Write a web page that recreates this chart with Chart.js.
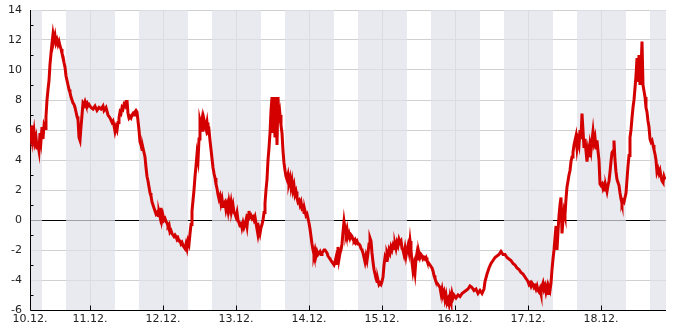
<!DOCTYPE html>
<html>
<head>
<meta charset="utf-8">
<script src="https://cdn.jsdelivr.net/npm/chart.js@4"></script>
<style>
  html, body { margin: 0; padding: 0; background: #fff; }
  #wrap { width: 685px; height: 330px; }
</style>
</head>
<body>
<div id="wrap"><canvas id="chart" width="685" height="330"></canvas></div>
<script>
// hours counted from 10.12. 00:00, temperature in °C
const dayLabels = ['10.12.', '11.12.', '12.12.', '13.12.', '14.12.', '15.12.', '16.12.', '17.12.', '18.12.'];
const X_MIN = 4.27;
const X_MAX = 213.37;
const SUNRISE = 8.2;
const SUNSET = 16.1;

const readings = [
  // 10.12.
  [4.27,6.2],[4.60,5.6],[4.93,6.3],[5.26,5.4],[5.59,5.9],[5.92,5.2],[6.25,5.5],[6.58,4.8],[6.90,5.0],[7.23,4.6],
  [7.56,5.8],[7.89,5.3],[8.22,6.2],[8.55,5.4],[8.88,6.3],[9.21,6.1],[9.53,6.9],[9.86,8.0],[10.19,8.7],[10.52,9.3],
  [10.85,10.4],[11.18,11.1],[11.51,11.8],[11.84,12.4],[12.16,12.0],[12.49,12.3],[12.82,11.8],[13.15,12.0],[13.48,11.7],[13.81,11.9],
  [14.14,11.6],[14.47,11.4],[14.79,11.1],[15.12,10.9],[15.45,10.5],[15.78,10.2],[16.11,9.6],[16.44,9.3],[16.77,9.0],[17.10,8.7],
  [17.42,8.5],[17.75,8.2],[18.08,8.0],[18.41,7.8],[18.74,7.7],[19.07,7.5],[19.40,7.2],[19.73,6.9],[20.05,6.7],[20.38,5.5],
  [20.71,5.3],[21.04,6.2],[21.37,7.0],[21.70,7.8],[22.03,7.7],[22.36,7.9],[22.68,7.7],[23.01,7.8],[23.34,7.6],[23.67,7.7],
  // 11.12.
  [24.00,7.6],[24.33,7.5],[24.99,7.4],[25.64,7.6],[26.30,7.3],[26.96,7.5],[27.62,7.4],[28.27,7.6],[28.60,7.3],[29.26,7.5],
  [29.92,7.0],[30.58,6.8],[31.23,6.5],[31.56,6.6],[31.89,6.3],[32.22,5.9],[32.55,6.2],[32.88,6.0],[33.21,6.5],[33.53,6.8],
  [33.86,7.2],[34.19,7.1],[34.52,7.5],[34.85,7.4],[35.18,7.7],[35.51,7.6],[35.84,7.9],[36.16,8.0],[36.49,7.1],[36.82,6.8],
  [37.15,6.9],[37.48,6.8],[37.81,7.0],[38.14,7.1],[38.47,7.0],[38.79,7.2],[39.12,7.3],[39.45,7.2],[39.78,6.6],[40.11,6.0],
  [40.44,5.2],[40.77,5.0],[41.10,4.7],[41.42,4.8],[41.75,4.5],[42.08,4.2],[42.41,3.5],[42.74,2.9],[43.07,2.6],[43.40,2.2],
  [43.73,1.8],[44.05,1.6],[44.38,1.2],[44.71,1.0],[45.04,0.8],[45.37,0.6],[45.70,0.4],[46.03,0.5],[46.36,0.3],[46.68,0.5],
  [47.01,0.2],[47.34,0.8],[47.67,0.0],
  // 12.12.
  [48.00,0.3],[48.33,0.0],[48.66,0.1],[48.99,-0.1],[49.32,-0.2],[49.64,-0.4],[49.97,-0.3],[50.30,-0.8],[50.63,-0.7],[50.96,-0.9],
  [51.29,-1.0],[51.62,-1.1],[51.95,-1.0],[52.27,-1.1],[52.60,-1.3],[52.93,-1.2],[53.26,-1.4],[53.59,-1.4],[53.92,-1.6],[54.25,-1.5],
  [54.58,-1.7],[54.90,-1.8],[55.23,-1.9],[55.56,-1.6],[55.89,-1.9],[56.22,-1.4],[56.55,-1.6],[56.88,-0.9],[57.21,-0.3],[57.53,0.6],
  [57.86,1.3],[58.19,2.0],[58.52,2.9],[58.85,3.6],[59.18,4.4],[59.51,4.0],[59.84,5.4],[60.16,6.6],[60.49,6.3],[60.82,6.7],
  [61.15,5.9],[61.48,6.7],[61.81,6.4],[62.14,6.1],[62.47,6.5],[62.79,5.9],[63.12,6.0],[63.45,5.3],[63.78,4.7],[64.11,4.1],
  [64.44,3.5],[64.77,3.1],[65.10,2.8],[65.42,2.4],[65.75,2.1],[66.08,1.7],[66.41,1.4],[66.74,1.6],[67.07,1.1],[67.40,1.4],
  [67.73,0.9],[68.05,1.1],[68.38,1.2],[68.71,0.7],[69.04,1.0],[69.37,0.6],[69.70,1.2],[70.03,0.8],[70.36,1.2],[70.68,0.7],
  [71.01,1.0],[71.34,0.5],[71.67,0.4],
  // 13.12.
  [72.00,0.2],[72.33,0.5],[72.66,0.0],[72.99,-0.2],[73.32,-0.4],[73.64,-0.1],[73.97,-0.5],[74.30,-0.2],[74.63,-0.5],[74.96,-0.3],
  [75.29,0.0],[75.62,-0.4],[75.95,0.3],[76.27,0.6],[76.60,0.2],[76.93,0.3],[77.26,0.1],[77.59,0.2],[77.92,0.0],[78.25,0.2],
  [78.58,-0.2],[78.90,-0.6],[79.23,-1.0],[79.56,-0.6],[79.89,-0.9],[80.22,-0.5],[80.55,-0.3],[80.88,0.0],[81.21,0.5],[81.53,1.1],
  [81.86,2.0],[82.19,2.7],[82.52,4.0],[82.85,4.8],[83.18,5.8],[83.51,7.3],[83.84,8.2],[84.16,5.8],[84.49,7.0],[84.82,5.5],
  [85.15,8.2],[85.48,5.0],[85.81,8.2],[86.14,6.5],[86.47,7.0],[86.79,6.3],[87.12,5.8],[87.45,4.6],[87.78,3.8],[88.11,3.3],
  [88.44,2.9],[88.77,2.7],[89.10,3.0],[89.42,2.5],[89.75,2.8],[90.08,2.2],[90.41,2.6],[90.74,2.0],[91.07,2.3],[91.40,1.7],
  [91.73,1.9],[92.05,1.5],[92.38,1.2],[92.71,1.3],[93.04,1.0],[93.37,1.2],[93.70,0.8],[94.03,0.9],[94.36,0.5],[94.68,0.6],
  [95.01,0.3],[95.34,0.4],[95.67,0.1],
  // 14.12.
  [96.00,-0.2],[96.33,-0.6],[96.66,-1.1],[96.99,-1.6],[97.32,-2.0],[97.64,-2.3],[97.97,-2.0],[98.30,-2.4],[98.63,-2.1],[98.96,-2.3],
  [99.29,-2.2],[99.62,-2.1],[99.95,-2.3],[100.27,-2.2],[100.60,-2.1],[100.93,-2.0],[101.26,-2.0],[101.59,-2.1],[101.92,-2.2],[102.25,-2.4],
  [102.58,-2.5],[102.90,-2.6],[103.23,-2.7],[103.56,-2.8],[103.89,-2.9],[104.22,-3.0],[104.55,-2.8],[104.88,-2.5],[105.21,-2.9],[105.53,-1.8],
  [105.86,-2.6],[106.19,-2.2],[106.52,-2.0],[106.85,-1.6],[107.18,-0.8],[107.51,-0.1],[107.84,-0.6],[108.16,-0.9],[108.49,-0.6],[108.82,-1.1],
  [109.15,-0.9],[109.48,-1.2],[109.81,-1.0],[110.14,-1.1],[110.47,-1.3],[110.79,-1.4],[111.12,-1.3],[111.45,-1.5],[111.78,-1.4],[112.11,-1.6],
  [112.44,-1.6],[112.77,-1.7],[113.10,-1.9],[113.42,-2.0],[113.75,-2.2],[114.08,-2.5],[114.41,-2.8],[114.74,-2.4],[115.07,-2.7],[115.40,-2.2],
  [115.73,-1.6],[116.05,-1.2],[116.38,-1.4],[116.71,-2.2],[117.04,-2.8],[117.37,-3.3],[117.70,-3.6],[118.03,-3.9],[118.36,-4.1],[118.68,-4.0],
  [119.01,-4.3],[119.34,-4.2],[119.67,-4.3],
  // 15.12.
  [120.00,-4.1],[120.33,-3.8],[120.66,-3.0],[120.99,-2.5],[121.32,-2.7],[121.64,-2.2],[121.97,-2.4],[122.30,-2.0],[122.63,-2.2],[122.96,-1.8],
  [123.29,-2.0],[123.62,-1.7],[123.95,-1.9],[124.27,-1.6],[124.60,-1.9],[124.93,-1.5],[125.26,-1.7],[125.59,-1.3],[125.92,-1.5],[126.25,-1.4],
  [126.58,-1.9],[126.90,-2.0],[127.23,-2.3],[127.56,-1.9],[127.89,-2.4],[128.22,-2.0],[128.55,-1.7],[128.88,-2.1],[129.21,-1.4],[129.53,-2.0],
  [129.86,-2.8],[130.19,-3.4],[130.52,-3.0],[130.85,-3.5],[131.18,-2.6],[131.51,-2.2],[131.84,-2.6],[132.16,-2.2],[132.49,-2.5],[132.82,-2.3],
  [133.15,-2.4],[133.48,-2.6],[133.81,-2.5],[134.14,-2.6],[134.47,-2.5],[134.79,-2.7],[135.12,-2.8],[135.45,-2.9],[135.78,-3.0],[136.11,-3.1],
  [136.44,-3.2],[136.77,-3.4],[137.10,-3.7],[137.42,-3.9],[137.75,-4.1],[138.08,-4.2],[138.41,-4.3],[138.74,-4.4],[139.07,-4.5],[139.40,-4.9],
  [139.73,-4.6],[140.05,-5.0],[140.38,-4.8],[140.71,-5.3],[141.04,-5.0],[141.37,-5.5],[141.70,-5.3],[142.03,-5.6],[142.36,-5.1],[142.68,-5.4],
  [143.01,-4.9],[143.34,-5.2],[143.67,-5.0],
  // 16.12.
  [144.00,-5.1],[144.33,-5.2],[144.99,-5.0],[145.64,-5.1],[146.30,-4.9],[146.96,-4.8],[147.62,-4.7],[148.27,-4.6],[148.93,-4.4],[149.59,-4.5],
  [150.25,-4.7],[150.90,-4.6],[151.56,-4.9],[152.22,-4.7],[152.88,-4.9],[153.53,-4.6],[153.86,-4.1],[154.52,-3.6],[155.18,-3.2],[155.84,-2.9],
  [156.49,-2.7],[157.15,-2.5],[157.81,-2.4],[158.47,-2.3],[159.12,-2.1],[159.78,-2.3],[160.44,-2.3],[161.10,-2.5],[161.75,-2.6],[162.41,-2.7],
  [163.07,-2.9],[163.73,-3.0],[164.38,-3.2],[165.04,-3.3],[165.70,-3.5],[166.36,-3.6],[167.01,-3.8],[167.67,-4.0],
  // 17.12.
  [168.00,-4.1],[168.33,-4.3],[168.66,-4.2],[168.99,-4.4],[169.32,-4.2],[169.64,-4.3],[169.97,-4.5],[170.30,-4.4],[170.63,-4.6],[170.96,-4.4],
  [171.29,-4.7],[171.62,-4.8],[171.95,-4.6],[172.27,-4.9],[172.60,-4.4],[172.93,-4.2],[173.26,-4.6],[173.59,-4.4],[173.92,-4.8],[174.25,-4.5],
  [174.58,-4.9],[174.90,-4.5],[175.23,-4.7],[175.56,-4.2],[175.89,-3.3],[176.22,-2.6],[176.55,-2.0],[176.88,-1.2],[177.21,-0.4],[177.53,-2.0],
  [177.86,-0.8],[178.19,0.3],[178.52,1.0],[178.85,1.5],[179.18,-0.9],[179.51,0.0],[179.84,0.6],[180.16,0.3],[180.49,1.4],[180.82,2.2],
  [181.15,2.6],[181.48,3.0],[181.81,3.3],[182.14,3.9],[182.47,4.2],[182.79,4.5],[183.12,5.0],[183.45,5.3],[183.78,5.6],[184.11,4.8],
  [184.44,5.3],[184.77,5.0],[185.10,6.0],[185.42,5.4],[185.75,7.1],[186.08,6.0],[186.41,4.8],[186.74,5.4],[187.07,4.6],[187.40,3.9],
  [187.73,4.6],[188.05,4.2],[188.38,5.0],[188.71,4.6],[189.04,5.3],[189.37,5.9],[189.70,5.2],[190.03,5.5],[190.36,4.8],[190.68,5.3],
  [191.01,4.6],[191.34,4.0],[191.67,2.4],
  // 18.12.
  [192.00,2.3],[192.33,2.4],[192.66,2.1],[192.99,2.3],[193.32,2.0],[193.64,2.2],[193.97,1.9],[194.30,2.3],[194.63,2.6],[194.96,3.2],
  [195.29,3.9],[195.62,4.5],[195.95,4.6],[196.27,5.3],[196.60,4.0],[196.93,3.2],[197.26,2.7],[197.59,2.5],[197.92,2.3],[198.25,1.8],
  [198.58,1.4],[198.90,1.1],[199.23,1.3],[199.56,1.2],[199.89,1.5],[200.22,1.8],[200.55,2.7],[200.88,3.6],[201.21,4.3],[201.53,5.5],
  [201.86,6.0],[202.19,6.8],[202.52,7.5],[202.85,8.0],[203.18,8.8],[203.51,9.6],[203.84,10.8],[204.16,9.2],[204.49,11.0],[204.82,9.0],
  [205.15,10.0],[205.48,11.9],[205.81,9.0],[206.14,8.6],[206.47,8.2],[206.79,7.5],[207.12,7.2],[207.45,6.6],[207.78,6.2],[208.11,5.4],
  [208.44,5.2],[208.77,5.3],[209.10,5.0],[209.42,4.7],[209.75,4.4],[210.08,4.0],[210.41,3.2],[210.74,3.4],[211.07,3.1],[211.40,3.3],
  [211.73,2.9],[212.06,2.6],[212.38,2.5],[212.71,2.9],[213.04,2.7]
];

Chart.defaults.font.family = 'DejaVu Sans';
Chart.defaults.font.size = 11;
Chart.defaults.color = '#222';

// night shading goes over the grid (translucent), then axis lines and inner ticks
const nightBands = {
  id: 'nightBands',
  beforeDatasetsDraw(chart) {
    const { ctx, chartArea: a, scales: { x, y } } = chart;
    ctx.save();
    ctx.fillStyle = 'rgba(224,225,234,0.71)';
    for (let d = -1; d <= dayLabels.length; d++) {
      const from = Math.max(x.getPixelForValue(d * 24 + SUNSET), a.left + 1);
      const to = Math.min(x.getPixelForValue((d + 1) * 24 + SUNRISE), a.right);
      if (to > from) ctx.fillRect(from, a.top, to - from, a.bottom - a.top);
    }

    const left = Math.round(a.left) + 0.5;
    const bottom = Math.round(a.bottom) + 0.5;
    ctx.strokeStyle = '#000';
    ctx.lineWidth = 1;
    ctx.beginPath();
    ctx.moveTo(left, a.top);
    ctx.lineTo(left, bottom);
    ctx.lineTo(a.right, bottom);
    for (let v = -5; v < 14; v += 2) {
      const py = Math.round(y.getPixelForValue(v)) + 0.5;
      ctx.moveTo(left, py);
      ctx.lineTo(left + 3, py);
    }
    x.ticks.forEach(t => {
      if (t.value % 24 !== 0) return;
      const px = Math.round(x.getPixelForValue(t.value)) + 0.5;
      ctx.moveTo(px, bottom);
      ctx.lineTo(px, bottom - 5);
    });
    ctx.stroke();
    ctx.restore();
  }
};

new Chart(document.getElementById('chart'), {
  type: 'line',
  data: {
    datasets: [{
      data: readings.map(([h, t]) => ({ x: h, y: t })),
      borderColor: '#d40000',
      borderWidth: 3,
      pointRadius: 0,
      tension: 0,
      fill: false
    }]
  },
  options: {
    responsive: false,
    animation: false,
    events: [],
    layout: { padding: { top: 10, right: 19, left: 0, bottom: 0 } },
    plugins: { legend: { display: false }, tooltip: { enabled: false } },
    scales: {
      x: {
        type: 'linear',
        min: X_MIN,
        max: X_MAX,
        afterBuildTicks: (scale) => {
          const ticks = [{ value: X_MIN }];
          for (let d = 1; d < dayLabels.length; d++) ticks.push({ value: d * 24 });
          scale.ticks = ticks;
        },
        afterFit: (scale) => {
          scale.height = 20;
          scale.paddingLeft = 0;
          scale.paddingRight = 0;
        },
        ticks: {
          autoSkip: false,
          maxRotation: 0,
          padding: 3,
          callback: (v) => dayLabels[Math.floor(v / 24)]
        },
        grid: { color: '#d0d0d0', drawTicks: false },
        border: { display: false }
      },
      y: {
        min: -6,
        max: 14,
        afterFit: (scale) => {
          scale.width = 30;
          scale.paddingTop = 0;
          scale.paddingBottom = 0;
        },
        ticks: { stepSize: 2, padding: 8 },
        grid: {
          drawTicks: false,
          color: (c) => c.tick && c.tick.value === 0 ? '#000' : '#d0d0d0'
        },
        border: { display: false }
      }
    }
  },
  plugins: [nightBands]
});
</script>
</body>
</html>
